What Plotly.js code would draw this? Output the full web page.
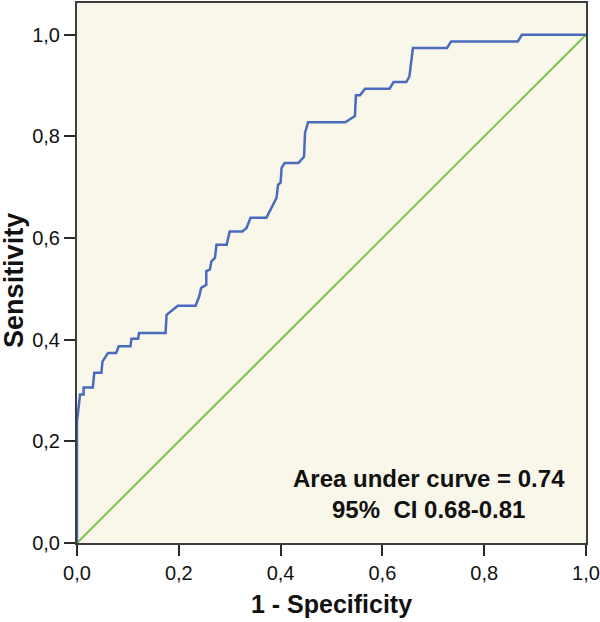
<!DOCTYPE html>
<html>
<head>
<meta charset="utf-8">
<script src="https://cdn.plot.ly/plotly-3.0.1.min.js"></script>
<style>html,body{margin:0;padding:0;background:#fff;}#chart{width:600px;height:622px;}</style>
</head>
<body>
<div id="chart"></div>
<script>
// ROC curve points (1 - Specificity, Sensitivity)
const fpr = [0, 0, 0.006, 0.013, 0.013, 0.031, 0.034, 0.048, 0.050, 0.057, 0.061, 0.077, 0.082, 0.105, 0.107, 0.120, 0.122,
  0.174, 0.176, 0.198, 0.233, 0.240, 0.244, 0.254, 0.254, 0.261, 0.264, 0.271, 0.274, 0.294, 0.300, 0.325, 0.333, 0.341,
  0.372, 0.392, 0.395, 0.400, 0.402, 0.408, 0.435, 0.446, 0.448, 0.454, 0.527, 0.546, 0.548, 0.556, 0.566, 0.614, 0.622,
  0.647, 0.653, 0.660, 0.727, 0.735, 0.866, 0.874, 1.0];
const tpr = [0, 0.239, 0.292, 0.292, 0.306, 0.306, 0.335, 0.335, 0.357, 0.367, 0.374, 0.374, 0.387, 0.387, 0.402, 0.402, 0.413,
  0.413, 0.449, 0.467, 0.467, 0.485, 0.502, 0.508, 0.535, 0.538, 0.554, 0.561, 0.587, 0.587, 0.613, 0.613, 0.620, 0.640,
  0.640, 0.679, 0.705, 0.709, 0.738, 0.748, 0.748, 0.760, 0.807, 0.828, 0.828, 0.840, 0.881, 0.881, 0.894, 0.894, 0.907,
  0.907, 0.918, 0.974, 0.974, 0.987, 0.987, 1.0, 1.0];
const refX = [0, 1];
const refY = [0, 1];
const tickVals = [0, 0.2, 0.4, 0.6, 0.8, 1.0];
const tickText = ["0,0", "0,2", "0,4", "0,6", "0,8", "1,0"];
const xTitle = "<b>1 - Specificity</b>";
const yTitle = "<b>Sensitivity</b>";
const aucText = "<b>Area under curve = 0.74</b><br><b>95%  CI 0.68-0.81</b>";

const FONT = 'Liberation Sans, Arial, sans-serif';

const traces = [
  {x: refX, y: refY, mode: 'lines', line: {color: '#7cc44e', width: 2}, hoverinfo: 'skip'},
  {x: fpr, y: tpr, mode: 'lines', line: {color: '#4a6bbd', width: 2.5}, hoverinfo: 'skip'}
];

const axisCommon = {
  showgrid: false, zeroline: false, showline: true, mirror: true,
  linecolor: '#3d3d3d', linewidth: 2,
  ticks: 'outside', ticklen: 11, tickwidth: 2, tickcolor: '#2a2a2a',
  tickvals: tickVals, ticktext: tickText,
  tickfont: {family: FONT, size: 20, color: '#111'}
};

const layout = {
  width: 600, height: 622,
  margin: {l: 77, r: 14, t: 3, b: 79},
  paper_bgcolor: '#ffffff',
  plot_bgcolor: '#f9f6ea',
  showlegend: false,
  xaxis: Object.assign({}, axisCommon, {
    range: [0, 1],
    title: {text: xTitle, standoff: 12, font: {family: FONT, size: 25, color: '#111'}}
  }),
  yaxis: Object.assign({}, axisCommon, {
    range: [0, 1.0626]
  }),
  annotations: [
    {
      xref: 'x', yref: 'y', x: 0.692, y: 0.097, xanchor: 'center', yanchor: 'middle',
      text: aucText, showarrow: false, align: 'center',
      font: {family: FONT, size: 24, color: '#111'}
    },
    {
      xref: 'paper', yref: 'paper', x: -0.124, y: 0.487, xanchor: 'center', yanchor: 'middle',
      text: yTitle, textangle: -90, showarrow: false,
      font: {family: FONT, size: 27, color: '#111'}
    }
  ]
};

Plotly.newPlot('chart', traces, layout, {staticPlot: true, displayModeBar: false});
</script>
</body>
</html>
